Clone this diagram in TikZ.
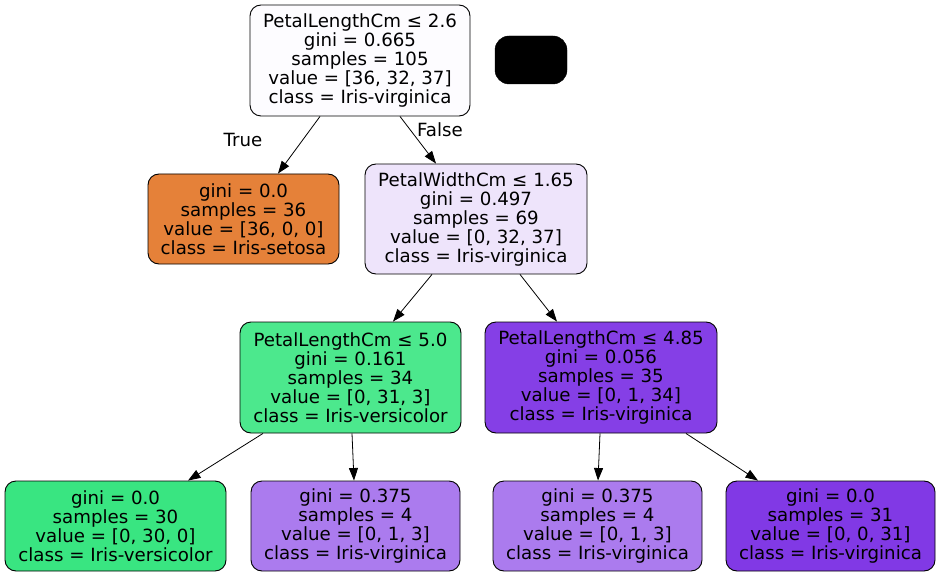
\documentclass[tikz,border=0pt]{standalone}
\usepackage{fontspec}
\newfontfamily\dvsans{DejaVu Sans}
\usetikzlibrary{arrows.meta}
\newcommand{\treefont}{\dvsans\fontsize{18.2}{19}\selectfont}
\definecolor{cRoot}{HTML}{FDFCFF}
\definecolor{cSetosa}{HTML}{E58139}
\definecolor{cPW}{HTML}{EEE4FB}
\definecolor{cPLa}{HTML}{4CE88D}
\definecolor{cPLb}{HTML}{853FE6}
\definecolor{cVers}{HTML}{39E581}
\definecolor{cMix}{HTML}{AB7BEE}
\definecolor{cVirg}{HTML}{8139E5}
\tikzset{
  treenode/.style={draw=black, line width=0.9pt, rounded corners=11pt, align=center,
    font=\treefont, inner sep=0pt},
  leafnode/.style={treenode, minimum height=90pt},
  splitnode/.style={treenode, minimum height=111pt},
  edge/.style={line width=0.8pt, -{Triangle[length=12.5pt,width=9pt]}},
  elabel/.style={font=\treefont, inner sep=0pt}
}
\begin{document}
\begin{tikzpicture}[x=1pt,y=-1pt]
\useasboundingbox (0,0) rectangle (941,577);
\node[splitnode, fill=cRoot, minimum width=220pt] (root) at (360,60.5)
  {PetalLengthCm ≤ 2.6\\gini = 0.665\\samples = 105\\value = [36, 32, 37]\\class = Iris-virginica};
\node[draw=black, fill=black, rounded corners=14pt, minimum width=72pt, minimum height=48pt, inner sep=0pt] (blk) at (531,60) {};
\node[leafnode, fill=cSetosa, minimum width=191pt] (setosa) at (243.5,219)
  {gini = 0.0\\samples = 36\\value = [36, 0, 0]\\class = Iris-setosa};
\node[splitnode, fill=cPW, minimum width=222pt, minimum height=110pt] (pw) at (476,219)
  {PetalWidthCm ≤ 1.65\\gini = 0.497\\samples = 69\\value = [0, 32, 37]\\class = Iris-virginica};
\node[splitnode, fill=cPLa, minimum width=221pt] (pla) at (350.5,377.5)
  {PetalLengthCm ≤ 5.0\\gini = 0.161\\samples = 34\\value = [0, 31, 3]\\class = Iris-versicolor};
\node[splitnode, fill=cPLb, minimum width=232pt] (plb) at (601,377.5)
  {PetalLengthCm ≤ 4.85\\gini = 0.056\\samples = 35\\value = [0, 1, 34]\\class = Iris-virginica};
\node[leafnode, fill=cVers, minimum width=221pt] (l1) at (115.5,526)
  {gini = 0.0\\samples = 30\\value = [0, 30, 0]\\class = Iris-versicolor};
\node[leafnode, fill=cMix, minimum width=209pt] (l2) at (355.5,526)
  {gini = 0.375\\samples = 4\\value = [0, 1, 3]\\class = Iris-virginica};
\node[leafnode, fill=cMix, minimum width=209pt] (l3) at (597.5,526)
  {gini = 0.375\\samples = 4\\value = [0, 1, 3]\\class = Iris-virginica};
\node[leafnode, fill=cVirg, minimum width=209pt] (l4) at (830.5,526)
  {gini = 0.0\\samples = 31\\value = [0, 0, 31]\\class = Iris-virginica};
\draw[edge] ([xshift=-40pt]root.south) -- ([xshift=34.5pt]setosa.north);
\draw[edge] ([xshift=40pt]root.south) -- ([xshift=-40pt]pw.north);
\draw[edge] ([xshift=-44pt]pw.south) -- ([xshift=42.5pt]pla.north);
\draw[edge] ([xshift=44pt]pw.south) -- ([xshift=-44pt]plb.north);
\draw[edge] ([xshift=-87.5pt]pla.south) -- ([xshift=72.5pt]l1.north);
\draw[edge] ([xshift=1.5pt]pla.south) -- ([xshift=-1.5pt]l2.north);
\draw[edge] ([xshift=-1pt]plb.south) -- ([xshift=0.5pt]l3.north);
\draw[edge] ([xshift=85pt]plb.south) -- ([xshift=-72.5pt]l4.north);
\node[elabel] (ltrue) at (243,140) {True};
\node[elabel] (lfalse) at (440,130) {False};
\end{tikzpicture}
\end{document}
